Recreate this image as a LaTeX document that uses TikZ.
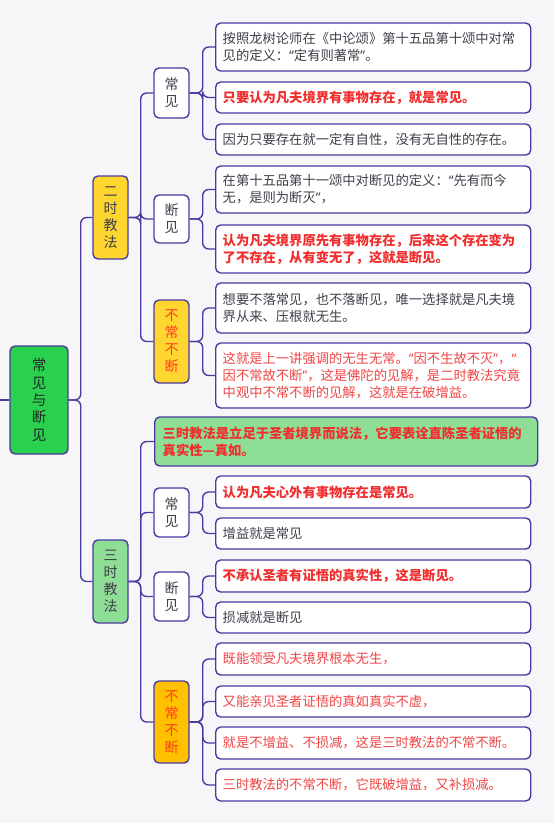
\documentclass[tikz,border=0pt]{standalone}
\usepackage{fontspec}
\setmainfont{Noto Sans CJK SC}
\newfontfamily\latinq{Noto Sans}
\newcommand\oq{{\latinq “}}
\newcommand\cq{{\latinq ”}}
\definecolor{bgc}{HTML}{F6F6F9}
\definecolor{linec}{HTML}{4B3AA0}
\definecolor{rootg}{HTML}{2AD14F}
\definecolor{yel}{HTML}{FFD630}
\definecolor{lgreen}{HTML}{8EDE95}
\definecolor{orng}{HTML}{FFC000}
\definecolor{redt}{HTML}{F02E2E}
\definecolor{redl}{HTML}{F04545}
\definecolor{grayt}{HTML}{3F3F4A}
\definecolor{ored}{HTML}{FF3B1F}
\tikzset{
  box/.style={draw=linec, line width=1.4pt, rounded corners=5pt},
  leaf/.style={box, fill=white, anchor=west, text width=301pt, inner xsep=7pt, inner ysep=0pt, align=left,
    font=\fontsize{13.3}{17}\selectfont, text=grayt},
  redb/.style={text=redt, font=\fontsize{13.3}{17}\selectfont\bfseries},
  redn/.style={text=redl},
  lvltwo/.style={box, fill=white, minimum width=35pt, inner sep=0pt, align=center,
    font=\fontsize{14}{17}\selectfont, text=grayt},
  lvlone/.style={box, minimum width=35pt, inner sep=0pt, align=center,
    font=\fontsize{14}{17}\selectfont, text=grayt},
  conn/.style={draw=linec, line width=1.4pt, rounded corners=6pt},
}
\begin{document}
\begin{tikzpicture}[x=1pt,y=-1pt]
\fill[bgc] (0,0) rectangle (554,823);
\useasboundingbox (0,0) rectangle (554,823);

% root
\node[lvlone, fill=rootg, minimum width=58pt, minimum height=108pt, font=\fontsize{14.5}{17.3}\selectfont, text=black!85] (root) at (39,400) {常\\见\\与\\断\\见};
\node[lvlone, fill=yel, minimum height=83pt] (er) at (110.5,217.5) {二\\时\\教\\法};
\node[lvlone, fill=lgreen, minimum height=83pt] (san) at (110.5,581.5) {三\\时\\教\\法};

% level two (二时)
\node[lvltwo, minimum height=50pt] (c1) at (171.5,93) {常\\见};
\node[lvltwo, minimum height=48pt] (d1) at (171.5,219) {断\\见};
\node[lvltwo, fill=yel, minimum height=83pt, text=ored] (b1) at (171.5,341.5) {不\\常\\不\\断};

% level two (三时)
\node[box, fill=lgreen, anchor=west, text width=367pt, inner xsep=8pt, inner ysep=0pt, align=left, minimum height=49pt,
  text=redt, font=\fontsize{13.3}{17}\selectfont\bfseries] (ban) at (154,441.5)
  {三时教法是立足于圣者境界而说法，它要表诠直陈圣者证悟的\\真实性—真如。};
\node[lvltwo, minimum height=49pt] (c2) at (171.5,512.5) {常\\见};
\node[lvltwo, minimum height=49pt] (d2) at (171.5,596.5) {断\\见};
\node[lvltwo, fill=orng, minimum height=82pt, text=ored] (b2) at (171.5,722) {不\\常\\不\\断};

% leaves
\node[leaf, minimum height=48pt] (l1) at (215,47) {按照龙树论师在《中论颂》第十五品第十颂中对常\\见的定义：\oq 定有则著常\cq 。};
\node[leaf, minimum height=31pt, redb] (l2) at (215,97.5) {只要认为凡夫境界有事物存在，就是常见。};
\node[leaf, minimum height=31pt] (l3) at (215,139.5) {因为只要存在就一定有自性，没有无自性的存在。};
\node[leaf, minimum height=47pt] (l4) at (215,189.5) {在第十五品第十一颂中对断见的定义：\oq 先有而今\\无，是则为断灭\cq ，};
\node[leaf, minimum height=48pt, redb] (l5) at (215,249) {认为凡夫境界原先有事物存在，后来这个存在变为\\了不存在，从有变无了，这就是断见。};
\node[leaf, minimum height=50pt] (l6) at (215,308) {想要不落常见，也不落断见，唯一选择就是凡夫境\\界从来、压根就无生。};
\node[leaf, minimum height=65pt, redn] (l7) at (215,375.5) {这就是上一讲强调的无生无常。\oq 因不生故不灭\cq ，\oq \\因不常故不断\cq ，这是佛陀的见解，是二时教法究竟\\中观中不常不断的见解，这就是在破增益。};

\node[leaf, minimum height=32pt, redb] (la) at (215,492) {认为凡夫心外有事物存在是常见。};
\node[leaf, minimum height=31pt] (lb) at (215,533.5) {增益就是常见};
\node[leaf, minimum height=32pt, redb] (lc) at (215,576) {不承认圣者有证悟的真实性，这是断见。};
\node[leaf, minimum height=31pt] (ld) at (215,617.5) {损减就是断见};
\node[leaf, minimum height=32pt, redn] (le) at (215,659) {既能领受凡夫境界根本无生，};
\node[leaf, minimum height=31pt, redn] (lf) at (215,701.5) {又能亲见圣者证悟的真如真实不虚，};
\node[leaf, minimum height=32pt, redn] (lg) at (215,743) {就是不增益、不损减，这是三时教法的不常不断。};
\node[leaf, minimum height=32pt, redn] (lh) at (215,785) {三时教法的不常不断，它既破增益，又补损减。};

% connectors
\draw[conn] (root.west) -- ++(-10,0);
\foreach \t in {er,san} \draw[conn] (root.east) -- ++(12,0) |- (\t.west);
\foreach \t in {c1,d1,b1} \draw[conn] (er.east) -- ++(12,0) |- (\t.west);
\foreach \t in {ban,c2,d2,b2} \draw[conn] (san.east) -- ++(12,0) |- (\t.west);
\foreach \t in {l1,l2,l3} \draw[conn] (c1.east) -- ++(13,0) |- (\t.west);
\foreach \t in {l4,l5} \draw[conn] (d1.east) -- ++(13,0) |- (\t.west);
\foreach \t in {l6,l7} \draw[conn] (b1.east) -- ++(13,0) |- (\t.west);
\foreach \t in {la,lb} \draw[conn] (c2.east) -- ++(13,0) |- (\t.west);
\foreach \t in {lc,ld} \draw[conn] (d2.east) -- ++(13,0) |- (\t.west);
\foreach \t in {le,lf,lg,lh} \draw[conn] (b2.east) -- ++(13,0) |- (\t.west);
\end{tikzpicture}
\end{document}
